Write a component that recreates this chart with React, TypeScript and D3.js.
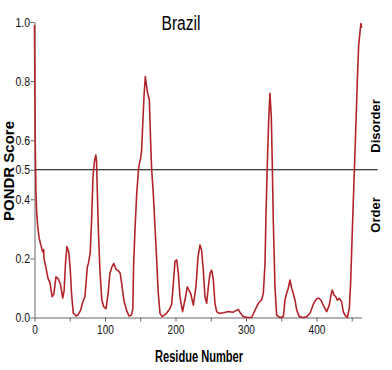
import React, { useRef, useEffect } from 'react';
import * as d3 from 'd3';

// PONDR disorder prediction, Brazil sequence
const residues = [
  0, 1, 2, 3, 4.5, 6.5, 9, 11.5, 13, 13.5, 16, 19, 22, 25, 27.5, 30.5, 34, 37, 40, 42,
  44, 46, 48.5, 50.5, 52.5, 55, 59, 62, 65.5, 68, 71.5, 75, 76.5, 79, 81, 83, 85, 87, 88, 90.5,
  93, 95.5, 98, 101.5, 104.5, 107, 110, 112.5, 115.5, 119, 121.5, 123.5, 127, 130.5, 134, 137.5, 139.5, 140.5, 142.6, 145,
  147.5, 148.7, 150.6, 152, 153.4, 155.3, 157.2, 159.1, 160.5, 162.9, 164.8, 166.2, 168.5, 170.9, 173.3, 175.6, 178, 181, 184, 187.5,
  192, 194.5, 196.5, 199.3, 201.7, 204, 206.4, 210, 213.5, 216.8, 219, 221.5, 225.3, 229, 232, 234.8, 237, 239.5, 241.8, 244.2,
  246.6, 249, 251.3, 253.7, 256, 258.4, 262, 268, 275, 282, 287, 289, 292.4, 296, 303, 308, 312.8, 317.5, 322, 324.6,
  327, 328.4, 330.3, 332.2, 334, 335.9, 337.3, 338.7, 341.1, 343.5, 348, 353, 355.3, 357.7, 360, 362.4, 364.8, 367, 369.5, 372,
  375.6, 381, 386, 391, 395.5, 400, 403, 406, 409.6, 414.4, 418.2, 420.6, 422.5, 424.8, 427.2, 429.5, 432.4, 435.7, 438, 440.4,
  443.7, 446.6, 448.5, 450.8, 453.2, 455.6, 457.9, 459.8, 461.7, 463, 464,
];
const scores = [
  0.99, 0.6, 0.43, 0.36, 0.31, 0.27, 0.245, 0.223, 0.23, 0.2, 0.172, 0.134, 0.117, 0.07, 0.08, 0.138, 0.13, 0.11, 0.066, 0.09,
  0.184, 0.24, 0.222, 0.172, 0.083, 0.015, 0.005, 0.01, 0.025, 0.049, 0.07, 0.172, 0.184, 0.218, 0.33, 0.48, 0.527, 0.55, 0.53, 0.3,
  0.15, 0.06, 0.037, 0.03, 0.083, 0.15, 0.172, 0.183, 0.163, 0.158, 0.15, 0.117, 0.055, 0.025, 0.005, 0.008, 0.03, 0.17, 0.3, 0.42,
  0.5, 0.52, 0.539, 0.567, 0.646, 0.747, 0.815, 0.781, 0.759, 0.736, 0.59, 0.5, 0.42, 0.307, 0.195, 0.082, 0.014, 0.003, 0.008, 0.015,
  0.03, 0.045, 0.1, 0.19, 0.195, 0.15, 0.07, 0.02, 0.06, 0.104, 0.093, 0.082, 0.042, 0.104, 0.206, 0.245, 0.228, 0.16, 0.07, 0.048,
  0.104, 0.15, 0.16, 0.127, 0.048, 0.02, 0.014, 0.016, 0.02, 0.018, 0.025, 0.027, 0.014, 0.003, 0, 0, 0.025, 0.048, 0.059, 0.082,
  0.183, 0.352, 0.521, 0.668, 0.759, 0.68, 0.52, 0.33, 0.104, 0.008, 0, 0.003, 0.059, 0.082, 0.099, 0.127, 0.099, 0.082, 0.059, 0.025,
  0.003, 0, 0.002, 0.015, 0.045, 0.063, 0.066, 0.06, 0.042, 0.02, 0.042, 0.076, 0.093, 0.076, 0.071, 0.059, 0.065, 0.053, 0.02, 0.008,
  0, 0.031, 0.121, 0.29, 0.46, 0.628, 0.797, 0.92, 0.965, 0.995, 0.98,
];
const yTicks = [0, 0.2, 0.4, 0.5, 0.6, 0.8, 1.0];
const xTicks = [0, 50, 100, 150, 200, 250, 300, 350, 400, 450];
const threshold = 0.5;
const seqLength = 464;

const W = 392;
const H = 370;
const font = '"Liberation Sans", Arial, sans-serif';

// the original uses a condensed face; squeeze text to its width
const narrowLen = (s: string) =>
  s.split('').reduce((a, c) => a + (c === '.' ? 3.4 : 5.6), 0);

export default function App() {
  const ref = useRef<SVGSVGElement>(null);

  useEffect(() => {
    const svg = d3.select(ref.current);
    svg.selectAll('*').remove();

    const x = d3.scaleLinear().domain([0, seqLength]).range([34.5, 361.6]);
    const y = d3.scaleLinear().domain([0, 1]).range([317.5, 22]);

    // axes
    const yAxis = d3
      .axisLeft(y)
      .tickValues(yTicks)
      .tickSize(4)
      .tickSizeOuter(0)
      .tickFormat(d3.format('.1f') as any);
    const gy = svg.append('g').attr('transform', `translate(${x(0)},0)`).call(yAxis);

    const xAxis = d3
      .axisBottom(x)
      .tickValues(xTicks)
      .tickSize(4)
      .tickSizeOuter(0)
      .tickFormat((d: any) => (d % 100 === 0 ? String(d) : ''));
    const gx = svg.append('g').attr('transform', `translate(0,${y(0)})`).call(xAxis);

    [gx, gy].forEach(g => {
      g.selectAll('path').attr('stroke', '#666');
      g.selectAll('line').attr('stroke', '#666');
      g.selectAll('text')
        .attr('fill', '#111')
        .style('font-family', font)
        .style('font-size', '12.5px')
        .each(function () {
          const t = d3.select(this as SVGTextElement);
          const s = t.text();
          if (s) t.attr('textLength', narrowLen(s)).attr('lengthAdjust', 'spacingAndGlyphs');
        });
    });
    gy.selectAll('text').attr('x', -4.5);
    gx.selectAll('text').attr('y', 8);

    // threshold line
    svg
      .append('line')
      .attr('x1', x(0))
      .attr('x2', x(seqLength) + 16)
      .attr('y1', y(threshold))
      .attr('y2', y(threshold))
      .attr('stroke', '#000')
      .attr('stroke-width', 1);

    // score line
    const pts: [number, number][] = residues.map((r, i) => [r, scores[i]]);
    const line = d3
      .line<[number, number]>()
      .x(d => x(d[0]))
      .y(d => y(d[1]));
    svg
      .append('path')
      .datum(pts)
      .attr('d', line)
      .attr('fill', 'none')
      .attr('stroke', '#b3242a')
      .attr('stroke-width', 1.6)
      .attr('stroke-linejoin', 'round');

    // title and labels
    svg
      .append('text')
      .attr('x', 181)
      .attr('y', 30)
      .attr('text-anchor', 'middle')
      .attr('textLength', 39)
      .attr('lengthAdjust', 'spacingAndGlyphs')
      .style('font-family', font)
      .style('font-size', '20px')
      .text('Brazil');

    svg
      .append('text')
      .attr('x', 199)
      .attr('y', 362)
      .attr('text-anchor', 'middle')
      .attr('textLength', 88)
      .attr('lengthAdjust', 'spacingAndGlyphs')
      .style('font-family', font)
      .style('font-weight', 'bold')
      .style('font-size', '16px')
      .text('Residue Number');

    svg
      .append('text')
      .attr('transform', 'translate(13.5,171) rotate(-90)')
      .attr('text-anchor', 'middle')
      .attr('textLength', 100)
      .attr('lengthAdjust', 'spacingAndGlyphs')
      .style('font-family', font)
      .style('font-weight', 'bold')
      .style('font-size', '14px')
      .text('PONDR Score');

    svg
      .append('text')
      .attr('transform', 'translate(380,126) rotate(-90)')
      .attr('text-anchor', 'middle')
      .style('font-family', font)
      .style('font-weight', 'bold')
      .style('font-size', '13px')
      .text('Disorder');

    svg
      .append('text')
      .attr('transform', 'translate(380,215) rotate(-90)')
      .attr('text-anchor', 'middle')
      .style('font-family', font)
      .style('font-weight', 'bold')
      .style('font-size', '13px')
      .text('Order');
  }, []);

  return (
    <svg
      ref={ref}
      width={W}
      height={H}
      style={{ position: 'absolute', left: 0, top: 0, background: '#fff' }}
    />
  );
}
